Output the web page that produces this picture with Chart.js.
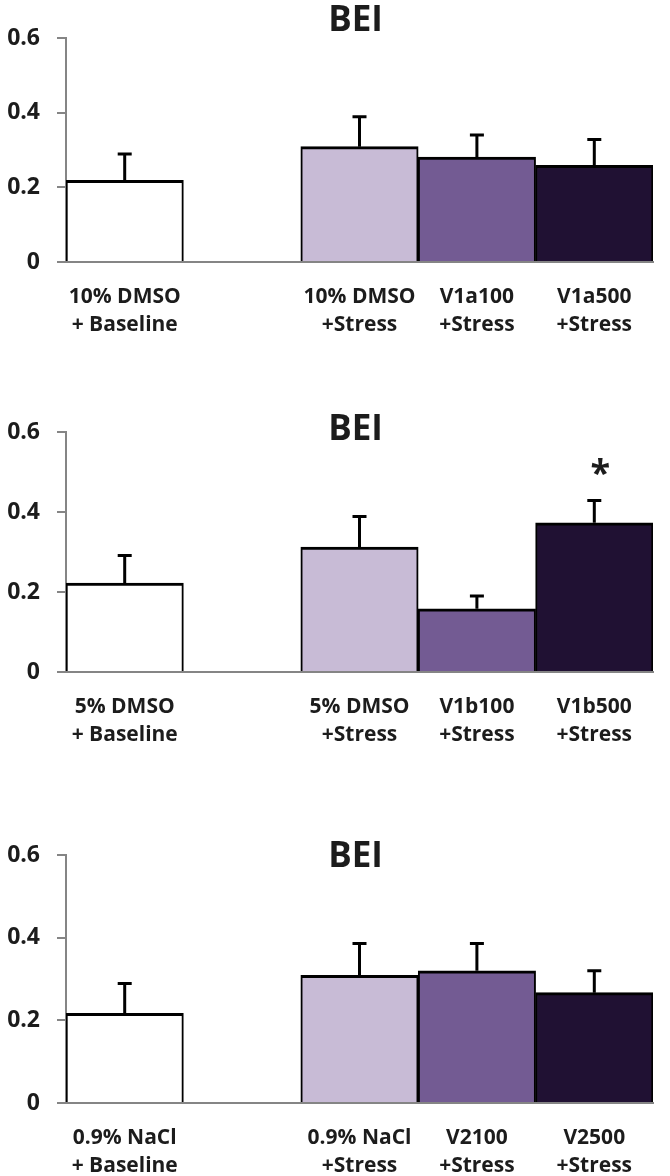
<!DOCTYPE html>
<html>
<head>
<meta charset="utf-8">
<title>BEI</title>
<script src="https://cdn.jsdelivr.net/npm/chart.js@4.4.1/dist/chart.umd.min.js"></script>
<style>
  html, body { margin: 0; padding: 0; background: #fff; }
  body { width: 670px; height: 1176px; position: relative; overflow: hidden; }
  .panel { position: absolute; left: 0; width: 670px; }
  .panel canvas { display: block; }
</style>
</head>
<body>
<div class="panel" style="top:0"><canvas id="chartA" width="670" height="350"></canvas></div>
<div class="panel" style="top:400px"><canvas id="chartB" width="670" height="365"></canvas></div>
<div class="panel" style="top:820px"><canvas id="chartC" width="670" height="356"></canvas></div>
<script>
// values
const yTicks = [0, 0.2, 0.4, 0.6];

const labelsA = [['10% DMSO', '+ Baseline'], '', ['10% DMSO', '+Stress'], ['V1a100', '+Stress'], ['V1a500', '+Stress']];
const meansA = [0.219, null, 0.309, 0.281, 0.259];
const semA = [0.070, null, 0.080, 0.059, 0.069];
const sigA = ['', '', '', '', ''];

const labelsB = [['5% DMSO', '+ Baseline'], '', ['5% DMSO', '+Stress'], ['V1b100', '+Stress'], ['V1b500', '+Stress']];
const meansB = [0.222, null, 0.312, 0.158, 0.373];
const semB = [0.069, null, 0.077, 0.032, 0.056];
const sigB = ['', '', '', '', '*'];

const labelsC = [['0.9% NaCl', '+ Baseline'], '', ['0.9% NaCl', '+Stress'], ['V2100', '+Stress'], ['V2500', '+Stress']];
const meansC = [0.217, null, 0.309, 0.320, 0.267];
const semC = [0.072, null, 0.077, 0.066, 0.053];
const sigC = ['', '', '', '', ''];

const titleText = 'BEI';
const barColors = ['#ffffff', '#ffffff', '#c8bbd6', '#735b93', '#201133'];

const FONT = "'Open Sans', 'DejaVu Sans', sans-serif";
const AXIS_GREY = '#858585';
const TEXT_DARK = '#1c1c1c';

// upper error bars + significance marks
const errorBars = {
  id: 'errorBars',
  afterDatasetsDraw(chart, args, opts) {
    const ctx = chart.ctx;
    const meta = chart.getDatasetMeta(0);
    const y = chart.scales.y;
    ctx.save();
    ctx.strokeStyle = '#000';
    ctx.lineWidth = 3;
    meta.data.forEach(function (bar, i) {
      const m = opts.means[i];
      if (m == null) return;
      const top = y.getPixelForValue(m + opts.sem[i]);
      const base = y.getPixelForValue(m);
      ctx.beginPath();
      ctx.moveTo(bar.x, base);
      ctx.lineTo(bar.x, top);
      ctx.moveTo(bar.x - 7, top);
      ctx.lineTo(bar.x + 7, top);
      ctx.stroke();
      if (opts.sig[i]) {
        ctx.fillStyle = TEXT_DARK;
        ctx.font = 'bold 36px ' + FONT;
        ctx.textAlign = 'center';
        ctx.textBaseline = 'middle';
        ctx.fillText(opts.sig[i], bar.x + 6, top - 26);
      }
    });
    ctx.restore();
  }
};

// title drawn at a fixed height so it can sit level with the top tick
const panelTitle = {
  id: 'panelTitle',
  afterDraw(chart, args, opts) {
    const ctx = chart.ctx;
    const area = chart.chartArea;
    ctx.save();
    ctx.fillStyle = TEXT_DARK;
    ctx.font = 'bold 35px ' + FONT;
    ctx.textAlign = 'center';
    ctx.textBaseline = 'middle';
    ctx.fillText(opts.text, (area.left + area.right) / 2 - 4, opts.y);
    ctx.restore();
  }
};

function makeChart(id, labels, means, sem, sig, padTop, xHeight, titleY) {
  return new Chart(document.getElementById(id), {
    type: 'bar',
    data: {
      labels: labels,
      datasets: [{
        data: means,
        backgroundColor: barColors,
        borderColor: '#000',
        borderWidth: { top: 3, left: 2, right: 2, bottom: 0 },
        borderSkipped: 'start',
        barPercentage: 1,
        categoryPercentage: 1
      }]
    },
    plugins: [errorBars, panelTitle],
    options: {
      responsive: false,
      devicePixelRatio: 1,
      animation: false,
      layout: { padding: { top: padTop, right: 17, bottom: 0, left: 0 } },
      plugins: {
        legend: { display: false },
        tooltip: { enabled: false },
        title: { display: false },
        errorBars: { means: means, sem: sem, sig: sig },
        panelTitle: { text: titleText, y: titleY }
      },
      scales: {
        x: {
          grid: { display: false },
          border: { color: AXIS_GREY, width: 2 },
          ticks: {
            color: TEXT_DARK,
            padding: 13,
            maxRotation: 0,
            autoSkip: false,
            font: { family: FONT, size: 21, weight: 'bold', lineHeight: 1.33 }
          },
          afterFit: function (s) { s.height = xHeight; }
        },
        y: {
          min: 0,
          max: 0.6,
          afterBuildTicks: function (s) { s.ticks = yTicks.map(function (v) { return { value: v }; }); },
          grid: { drawOnChartArea: false, color: AXIS_GREY, lineWidth: 2, tickLength: 9 },
          border: { color: AXIS_GREY, width: 2 },
          ticks: {
            color: TEXT_DARK,
            padding: 17,
            font: { family: FONT, size: 23, weight: 'bold' }
          },
          afterFit: function (s) { s.width = 66; }
        }
      }
    }
  });
}

makeChart('chartA', labelsA, meansA, semA, sigA, 38, 88, 21);
makeChart('chartB', labelsB, meansB, semB, sigB, 32, 93, 30);
makeChart('chartC', labelsC, meansC, semC, sigC, 35, 73, 37);
</script>
</body>
</html>
